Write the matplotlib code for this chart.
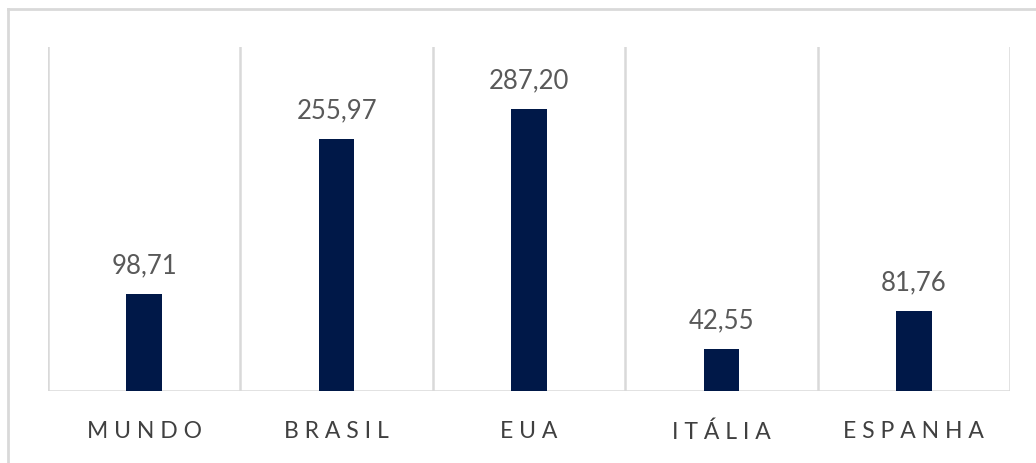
import matplotlib.pyplot as plt
from matplotlib.lines import Line2D

paises = ['MUNDO', 'BRASIL', 'EUA', 'ITÁLIA', 'ESPANHA']
valores = [98.71, 255.97, 287.20, 42.55, 81.76]
rotulos = ['98,71', '255,97', '287,20', '42,55', '81,76']

plt.rcParams['font.family'] = ['Lato', 'DejaVu Sans']

fig = plt.figure(figsize=(10.36, 4.64), dpi=100)
ax = fig.add_axes([48 / 1036, 1 - 392 / 464, 962 / 1036, 344 / 464])

x = list(range(len(paises)))
ax.bar(x, valores, width=0.185, color='#001848', zorder=3)
for xi, v, r in zip(x, valores, rotulos):
    ax.annotate(r, (xi, v), xytext=(0, 12), textcoords='offset points',
                ha='center', va='bottom', fontsize=18.5, color='#595959')

ax.set_xlim(-0.5, len(paises) - 0.5)
ax.set_ylim(0, 350)

# separadores entre categorias
for b in range(len(paises) + 1):
    ax.axvline(b - 0.5, color='#d9d9d9', lw=1.8, zorder=1)
ax.axhline(0, color='#d9d9d9', lw=1.8, zorder=2)

ax.set_xticks(x)
ax.set_xticklabels([' '.join(p) for p in paises], fontsize=16.5, color='#404040')
ax.tick_params(axis='x', length=0, pad=21)
ax.set_yticks([])
for s in ax.spines.values():
    s.set_visible(False)

# moldura do gráfico
fig.add_artist(Line2D([8 / 1036, 1], [1 - 10 / 464, 1 - 10 / 464],
                      color='#d9d9d9', lw=2, transform=fig.transFigure))
fig.add_artist(Line2D([8 / 1036, 8 / 1036], [0, 1 - 10 / 464],
                      color='#d9d9d9', lw=2, transform=fig.transFigure))

fig.savefig('out.png', dpi=100, facecolor='white')
